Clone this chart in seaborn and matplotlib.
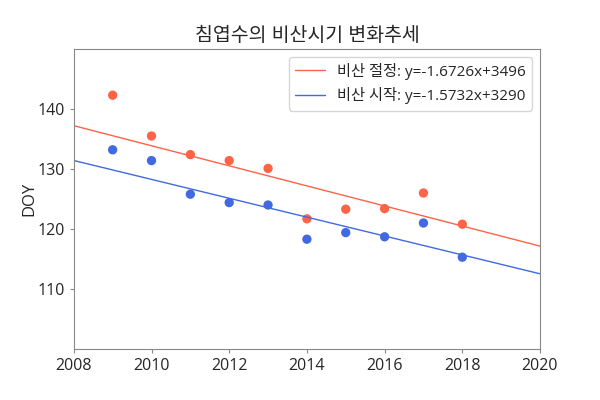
import matplotlib
matplotlib.use("Agg")
import matplotlib.pyplot as plt
import seaborn as sns
import numpy as np
import pandas as pd

years = [2009, 2010, 2011, 2012, 2013, 2014, 2015, 2016, 2017, 2018]
end_doy = [142.3, 135.5, 132.4, 131.4, 130.1, 121.7, 123.3, 123.4, 126.0, 120.8]
start_doy = [133.2, 131.4, 125.8, 124.4, 124.0, 118.3, 119.4, 118.7, 121.0, 115.3]
end_slope, end_intercept = -1.6726, 3495.8
start_slope, start_intercept = -1.5732, 3290.4
end_name = "비산 절정"
start_name = "비산 시작"
title = "침엽수의 비산시기 변화추세"

sns.set_style("white")
plt.rcParams['font.family'] = ['Open Sans', 'Noto Sans CJK KR', 'DejaVu Sans']
plt.rcParams['axes.unicode_minus'] = False

fig, ax = plt.subplots(figsize=(6, 4), dpi=100)
fig.subplots_adjust(left=0.123, right=0.9, top=0.8775, bottom=0.1275)

df = pd.DataFrame({"year": years, "end": end_doy, "start": start_doy})
xs = np.array([2008, 2020])

ax.plot(xs, end_slope * xs + end_intercept, color="tomato", lw=1,
        label=f"{end_name}: y={end_slope:.4f}x+{end_intercept:.0f}")
ax.plot(xs, start_slope * xs + start_intercept, color="royalblue", lw=1,
        label=f"{start_name}: y={start_slope:.4f}x+{start_intercept:.0f}")
sns.scatterplot(data=df, x="year", y="end", color="tomato", s=45, edgecolor="none", ax=ax)
sns.scatterplot(data=df, x="year", y="start", color="royalblue", s=45, edgecolor="none", ax=ax)

ax.set_xlim(2008, 2020)
ax.set_ylim(100, 150)
ax.set_xticks([2008, 2010, 2012, 2014, 2016, 2018, 2020])
ax.set_yticks([110, 120, 130, 140])
ax.set_xlabel("")
ax.set_ylabel("DOY", fontsize=12, labelpad=0)
ax.set_title(title, fontsize=14)
ax.tick_params(axis="both", labelsize=11.5, length=3, color="#888888", left=True, bottom=True)
for sp in ax.spines.values():
    sp.set_color("#888888")
ax.legend(loc="upper right", fontsize=11, frameon=True, handlelength=2)

fig.savefig("out.png", dpi=100)
